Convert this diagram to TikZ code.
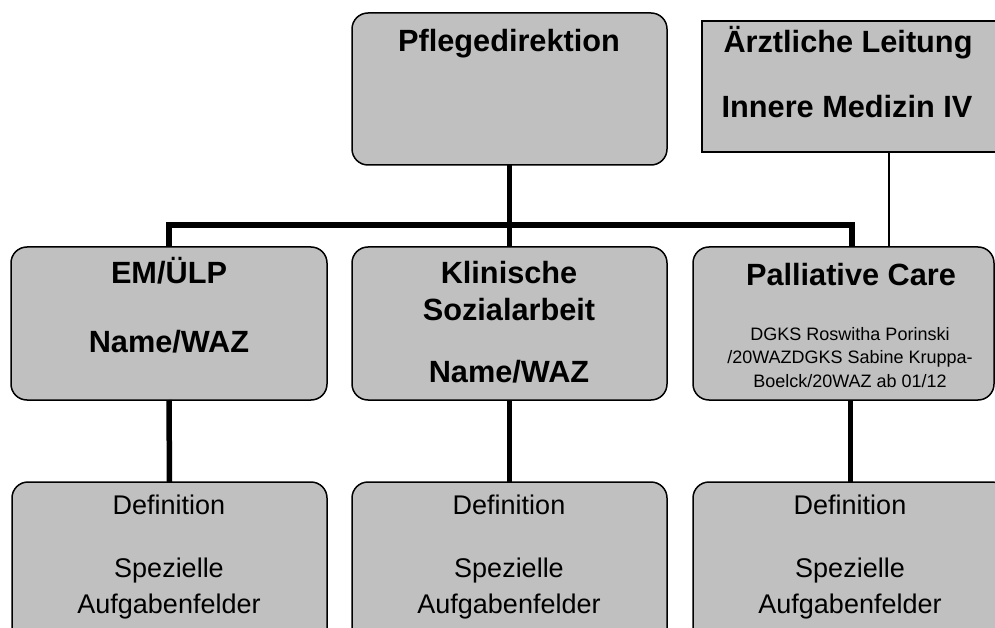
\documentclass[tikz,border=0pt]{standalone}
\usepackage{fontspec}
\setmainfont{Liberation Sans}
\definecolor{boxgray}{HTML}{C0C0C0}
\begin{document}
\begin{tikzpicture}[x=1pt,y=-1pt,
  rbox/.style={draw=black, line width=1.5pt, fill=boxgray, rounded corners=16pt,
    inner sep=0pt, outer sep=0pt, anchor=north west},
  sbox/.style={draw=black, line width=1.5pt, fill=boxgray,
    inner sep=0pt, outer sep=0pt, anchor=north west},
  bigtxt/.style={anchor=base, inner sep=0pt, font=\fontsize{30.7}{37}\selectfont\bfseries},
  midtxt/.style={anchor=base, inner sep=0pt, font=\fontsize{27}{32}\selectfont},
  smalltxt/.style={anchor=base, inner sep=0pt, font=\fontsize{18}{22}\selectfont},
  thickline/.style={line width=5.5pt},
  thinline/.style={line width=1.3pt}]
\useasboundingbox (0,0) rectangle (995,628);
\clip (0,0) rectangle (995,628);
% boxes
\node[rbox, minimum width=315pt, minimum height=152pt] (pd) at (352,13) {};
\node[sbox, minimum width=320pt, minimum height=131pt] (ae) at (702,21) {};
\node[rbox, minimum width=316pt, minimum height=153pt] (em) at (11,247) {};
\node[rbox, minimum width=315pt, minimum height=153pt] (ks) at (352,247) {};
\node[rbox, minimum width=301pt, minimum height=153pt] (pc) at (693,247) {};
\node[rbox, minimum width=315pt, minimum height=170pt] (d1) at (12,482) {};
\node[rbox, minimum width=315pt, minimum height=170pt] (d2) at (352,482) {};
\node[rbox, minimum width=315pt, minimum height=170pt] (d3) at (693,482) {};
% connectors
\coordinate (busR) at (852,225);
\coordinate (aeDrop) at (889,152);
\draw[thickline] (pd.south) -- (ks.north);
\draw[thickline] (em.north) |- (busR) -- (busR |- pc.north);
\draw[thinline] (aeDrop) -- (aeDrop |- pc.north);
\draw[thickline] (em.south) -- (d1.north);
\draw[thickline] (ks.south) -- (d2.north);
\draw[thickline] (d3.north |- pc.south) -- (d3.north);
% texts
\node[bigtxt] (tpd) at (509,52) {Pflegedirektion};
\node[bigtxt] (tae1) at (848,53) {Ärztliche Leitung};
\node[bigtxt] (tae2) at (847,118) {Innere Medizin IV};
\node[bigtxt] (tem1) at (169,283) {EM/ÜLP};
\node[bigtxt] (tem2) at (169,352) {Name/WAZ};
\node[bigtxt] (tks1) at (509,283) {Klinische};
\node[bigtxt] (tks2) at (509,320) {Sozialarbeit};
\node[bigtxt] (tks3) at (509,382) {Name/WAZ};
\node[bigtxt] (tpc1) at (851,285) {Palliative Care};
\node[smalltxt] (tpc2) at (850,340) {DGKS Roswitha Porinski};
\node[smalltxt] (tpc3) at (850,363) {/20WAZDGKS Sabine Kruppa-};
\node[smalltxt] (tpc4) at (850,387) {Boelck/20WAZ ab 01/12};
\node[midtxt] (td1a) at (169,514) {Definition};
\node[midtxt] (td1b) at (169,577) {Spezielle};
\node[midtxt] (td1c) at (169,613) {Aufgabenfelder};
\node[midtxt] (td2a) at (509,514) {Definition};
\node[midtxt] (td2b) at (509,577) {Spezielle};
\node[midtxt] (td2c) at (509,613) {Aufgabenfelder};
\node[midtxt] (td3a) at (850,514) {Definition};
\node[midtxt] (td3b) at (850,577) {Spezielle};
\node[midtxt] (td3c) at (850,613) {Aufgabenfelder};
\end{tikzpicture}
\end{document}
